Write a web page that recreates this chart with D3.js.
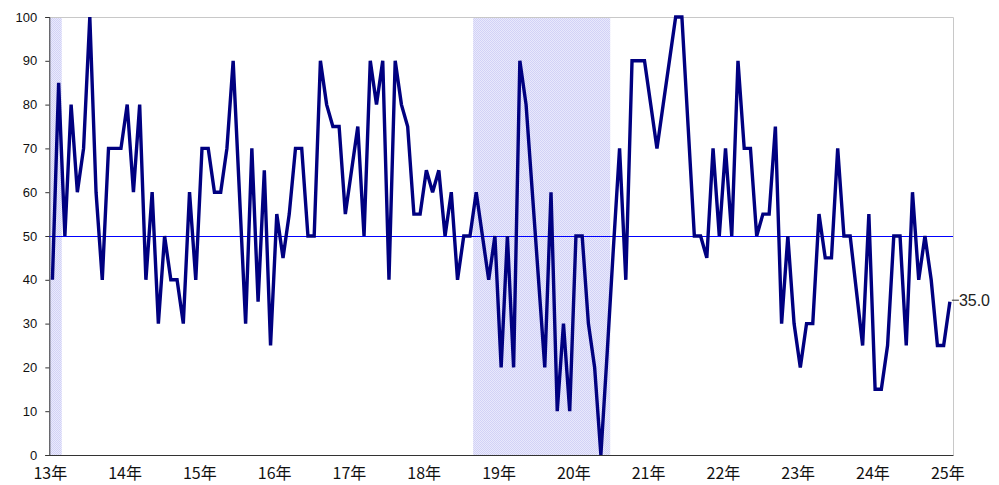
<!DOCTYPE html>
<html>
<head>
<meta charset="utf-8">
<script src="https://cdn.jsdelivr.net/npm/d3@7"></script>
<style>
  html, body { margin: 0; padding: 0; background: #fff; }
  svg { display: block; font-family: "Noto Sans CJK JP", "Noto Sans", sans-serif; }
</style>
</head>
<body>
<svg id="chart" width="999" height="485"></svg>
<script>
// monthly series, Jan 2013 .. Jan 2025
const values = [
  40, 85, 50, 80, 60, 70, 100, 60, 40, 70, 70, 70, 80, 60, 80, 40, 60, 30, 50, 40, 40, 30, 60, 40,
  70, 70, 60, 60, 70, 90, 60, 30, 70, 35, 65, 25, 55, 45, 55, 70, 70, 50, 50, 90, 80, 75, 75, 55,
  65, 75, 50, 90, 80, 90, 40, 90, 80, 75, 55, 55, 65, 60, 65, 50, 60, 40, 50, 50, 60, 50, 40, 50,
  20, 50, 20, 90, 80, 60, 40, 20, 60, 10, 30, 10, 50, 50, 30, 20, 0, 23, 47, 70, 40, 90, 90, 90,
  80, 70, 80, 90, 100, 100, 75, 50, 50, 45, 70, 50, 70, 50, 90, 70, 70, 50, 55, 55, 75, 30, 50, 30,
  20, 30, 30, 55, 45, 45, 70, 50, 50, 37.5, 25, 55, 15, 15, 25, 50, 50, 25, 60, 40, 50, 40, 25, 25, 35
];
const yearLabels = ['13年', '14年', '15年', '16年', '17年', '18年', '19年', '20年', '21年', '22年', '23年', '24年', '25年'];
const yTicks = [0, 10, 20, 30, 40, 50, 60, 70, 80, 90, 100];
// shaded periods, as [first index, last index]
const shaded = [[0, 1], [68, 89]];
const baseline = 50;

const svg = d3.select('#chart');
const plotLeft = 49.3, plotRight = 953, plotTop = 17, plotBottom = 455;

const x = d3.scaleBand().domain(d3.range(values.length)).range([plotLeft, plotRight]).padding(0);
const y = d3.scaleLinear().domain([0, 100]).range([plotBottom, plotTop]);
const cx = (i) => x(i) + x.bandwidth() / 2;

const defs = svg.append('defs');
const pat = defs.append('pattern')
  .attr('id', 'dots')
  .attr('width', 2).attr('height', 2)
  .attr('patternUnits', 'userSpaceOnUse');
pat.append('rect').attr('width', 2).attr('height', 2).attr('fill', '#e9e9fc');
pat.append('rect').attr('width', 1).attr('height', 1).attr('fill', '#d2d2f6');
pat.append('rect').attr('x', 1).attr('y', 1).attr('width', 1).attr('height', 1).attr('fill', '#d2d2f6');

svg.append('g')
  .selectAll('rect')
  .data(shaded)
  .enter()
  .append('rect')
  .attr('x', (d) => x(d[0]))
  .attr('y', plotTop)
  .attr('width', (d) => x(d[1]) + x.bandwidth() - x(d[0]))
  .attr('height', plotBottom - plotTop)
  .attr('fill', 'url(#dots)');

// frame: light top/right
svg.append('path')
  .attr('d', `M${plotLeft},${plotTop + 0.5}H${plotRight + 0.5}V${plotBottom}`)
  .attr('fill', 'none')
  .attr('stroke', '#c8c8c8')
  .attr('stroke-width', 1);

// y axis
const yAxis = svg.append('g')
  .attr('transform', `translate(${plotLeft},0)`)
  .call(d3.axisLeft(y).tickValues(yTicks).tickSize(4).tickPadding(8));
yAxis.select('.domain').attr('stroke', '#333');
yAxis.selectAll('.tick line').attr('stroke', '#333');
yAxis.selectAll('.tick text')
  .attr('fill', '#111')
  .style('font-size', '13px')
  .style('font-family', '"Liberation Sans", "Noto Sans", sans-serif');

// x axis
svg.append('line')
  .attr('x1', plotLeft).attr('x2', plotRight + 0.5)
  .attr('y1', plotBottom + 0.5).attr('y2', plotBottom + 0.5)
  .attr('stroke', '#333');

svg.append('g')
  .selectAll('text')
  .data(yearLabels)
  .enter()
  .append('text')
  .attr('x', (d, i) => (i * 12 < values.length ? x(i * 12) : plotRight) + 1)
  .attr('y', 479)
  .attr('text-anchor', 'middle')
  .attr('fill', '#111')
  .style('font-size', '16px')
  .text((d) => d);

// reference line
svg.append('line')
  .attr('x1', plotLeft).attr('x2', plotRight)
  .attr('y1', Math.round(y(baseline)) + 0.5).attr('y2', Math.round(y(baseline)) + 0.5)
  .attr('stroke', '#0000ff')
  .attr('stroke-width', 1);

const line = d3.line()
  .x((d, i) => cx(i))
  .y((d) => y(d));

svg.append('path')
  .datum(values)
  .attr('d', line)
  .attr('fill', 'none')
  .attr('stroke', '#000080')
  .attr('stroke-width', 3.4)
  .attr('stroke-linejoin', 'miter')
  .attr('stroke-miterlimit', 3);

// last value label
const last = values[values.length - 1];
const lx = cx(values.length - 1);
svg.append('line')
  .attr('x1', lx + 2).attr('x2', lx + 9)
  .attr('y1', y(last) - 1.5).attr('y2', y(last) - 1.5)
  .attr('stroke', '#333');
svg.append('text')
  .attr('x', lx + 9)
  .attr('y', y(last) + 4)
  .attr('fill', '#222')
  .style('font-size', '16px')
  .style('font-family', '"Liberation Sans", "Noto Sans", sans-serif')
  .text(last.toFixed(1));
</script>
</body>
</html>
